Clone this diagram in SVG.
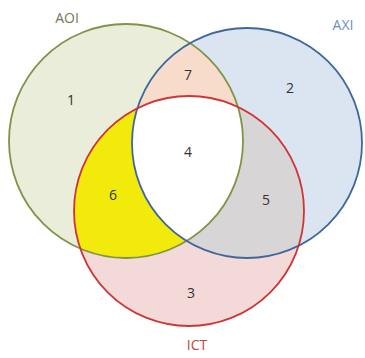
<svg xmlns="http://www.w3.org/2000/svg" width="365" height="358" viewBox="0 0 365 358">
<style>
.lbl{font-family:"Open Sans","Liberation Sans",sans-serif;font-size:14px;text-anchor:middle}
.num{font-family:"Open Sans","Liberation Sans",sans-serif;font-size:14px;fill:#333;text-anchor:middle}
.ring{fill:none;stroke-width:1.8}
</style>
<defs>
<clipPath id="cA"><circle cx="126" cy="141" r="117"/></clipPath>
<clipPath id="cB"><circle cx="247" cy="143" r="115"/></clipPath>
</defs>
<rect width="365" height="358" fill="#ffffff"/>
<g id="fills">
<circle cx="126" cy="141" r="117" fill="#e9edda"/>
<circle cx="247" cy="143" r="115" fill="#dbe5f2"/>
<circle cx="189" cy="211" r="115" fill="#f4d9d9"/>
<circle cx="247" cy="143" r="115" fill="#f8dccb" clip-path="url(#cA)"/>
<circle cx="189" cy="211" r="115" fill="#f2ea0a" clip-path="url(#cA)"/>
<circle cx="189" cy="211" r="115" fill="#d7d5d5" clip-path="url(#cB)"/>
<g clip-path="url(#cA)"><circle cx="189" cy="211" r="115" fill="#ffffff" clip-path="url(#cB)"/></g>
</g>
<g id="AOI">
<circle class="ring" cx="126" cy="141" r="117" stroke="#7f9447"/>
<text class="lbl" x="67" y="23" fill="#6f7a55">AOI</text>
</g>
<g id="AXI">
<circle class="ring" cx="247" cy="143" r="115" stroke="#3f679c"/>
<text class="lbl" x="343" y="30" fill="#6b90c6">AXI</text>
</g>
<g id="ICT">
<circle class="ring" cx="189" cy="211" r="115" stroke="#cf3535"/>
<text class="lbl" x="197" y="350" fill="#c0443c">ICT</text>
</g>
<g id="regions">
<text class="num" x="71" y="105">1</text>
<text class="num" x="290" y="93">2</text>
<text class="num" x="191" y="298">3</text>
<text class="num" x="188" y="157">4</text>
<text class="num" x="266" y="205">5</text>
<text class="num" x="113" y="200">6</text>
<text class="num" x="188" y="80">7</text>
</g>
</svg>
